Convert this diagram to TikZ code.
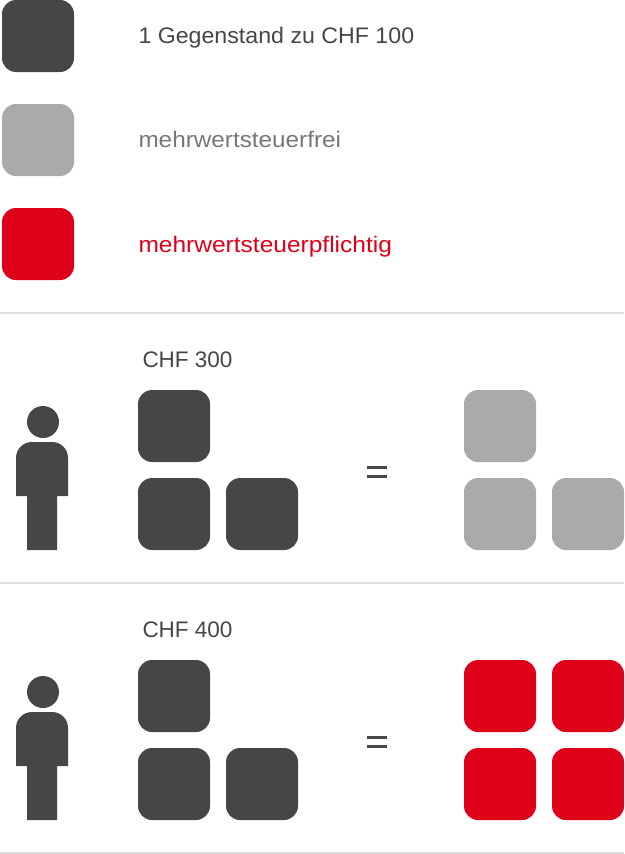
\documentclass[tikz,border=0pt]{standalone}
\usepackage{fontspec}
\usepackage{graphicx}
\setmainfont{Liberation Sans}
\definecolor{dark}{HTML}{464646}
\definecolor{lightg}{HTML}{AAAAAA}
\definecolor{textg}{HTML}{777777}
\definecolor{swiss}{HTML}{DE0018}
\definecolor{rulec}{HTML}{DDDDDD}
\tikzset{
  x=1pt,y=-1pt,
  sq/.style={anchor=north west,minimum size=72pt,inner sep=0pt,outer sep=0pt,rounded corners=14pt,fill=#1},
  lbl/.style={anchor=base west,inner sep=0pt,outer sep=0pt,font=\fontsize{22.5pt}{26pt}\selectfont,text=#1},
  sep/.style={rulec,line width=2pt},
}
\newcommand{\personfig}[1]{%
  \begin{scope}[yshift=-#1pt]
    \fill[dark] (43,422) circle[radius=16];
    \fill[dark] (16,496) -- (16,458) .. controls (16,449) and (23,442) .. (32,442) -- (52,442) .. controls (61,442) and (68,449) .. (68,458) -- (68,496) -- (57,496) -- (57,550) -- (27,550) -- (27,496) -- cycle;
  \end{scope}}
\begin{document}
\begin{tikzpicture}
\useasboundingbox (0,0) rectangle (624,854);
\node[sq=dark] (k1) at (2,0) {};
\node[sq=lightg] (k2) at (2,104) {};
\node[sq=swiss] (k3) at (2,208) {};
\node[lbl=dark] (t1) at (138.5,43.5) {\scalebox{1.03}[1]{1 Gegenstand zu CHF 100}};
\node[lbl=textg] (t2) at (138.5,147.5) {\scalebox{1.08}[1]{mehrwertsteuerfrei}};
\node[lbl=swiss] (t3) at (138.5,252) {\scalebox{1.09}[1]{mehrwertsteuerpflichtig}};
\coordinate (l1a) at (0,313); \coordinate (l1b) at (624,313);
\coordinate (l2a) at (0,583); \coordinate (l2b) at (624,583);
\coordinate (l3a) at (0,853); \coordinate (l3b) at (624,853);
\draw[sep] (l1a) -- (l1b);
\draw[sep] (l2a) -- (l2b);
\draw[sep] (l3a) -- (l3b);
% row 1
\personfig{0}
\node[lbl=dark] (c1) at (142.5,367.5) {CHF 300};
\node[sq=dark] (a1) at (138,390) {};
\node[sq=dark] (a2) at (138,478) {};
\node[sq=dark] (a3) at (226,478) {};
\fill[dark] (367,466.2) rectangle (387,468.6);
\fill[dark] (367,475.4) rectangle (387,477.8);
\node[sq=lightg] (b1) at (464,390) {};
\node[sq=lightg] (b2) at (464,478) {};
\node[sq=lightg] (b3) at (552,478) {};
% row 2
\personfig{270}
\node[lbl=dark] (c2) at (142.5,637.5) {CHF 400};
\node[sq=dark] (d1) at (138,660) {};
\node[sq=dark] (d2) at (138,748) {};
\node[sq=dark] (d3) at (226,748) {};
\fill[dark] (367,736.2) rectangle (387,738.6);
\fill[dark] (367,745.4) rectangle (387,747.8);
\node[sq=swiss] (e1) at (464,660) {};
\node[sq=swiss] (e2) at (552,660) {};
\node[sq=swiss] (e3) at (464,748) {};
\node[sq=swiss] (e4) at (552,748) {};
\end{tikzpicture}
\end{document}
